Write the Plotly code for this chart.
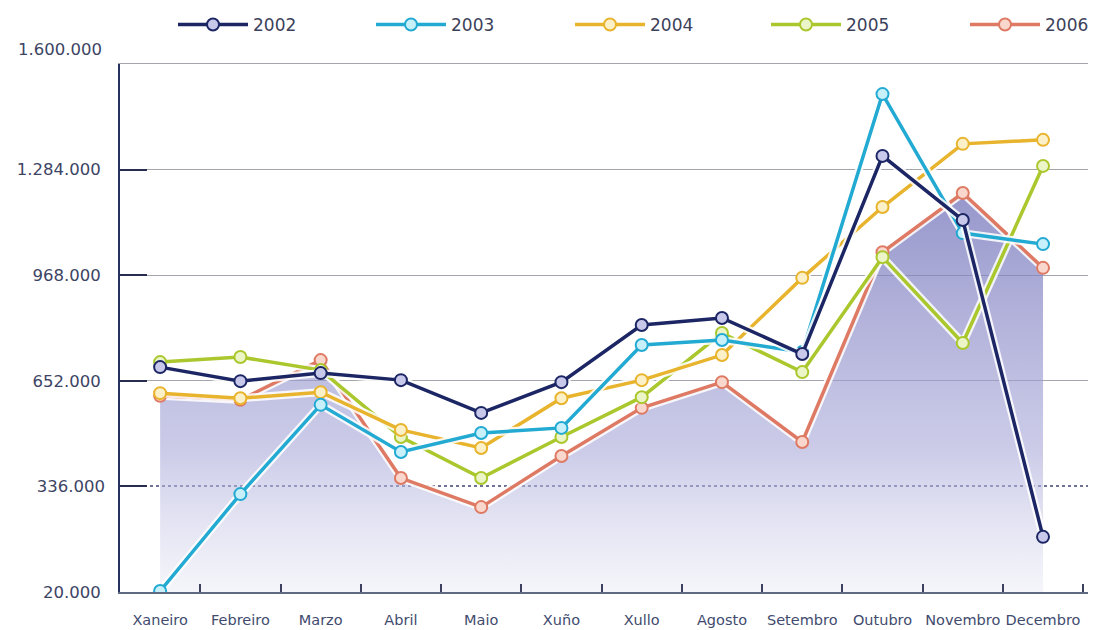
import plotly.graph_objects as go

months = ["Xaneiro", "Febreiro", "Marzo", "Abril", "Maio", "Xuño", "Xullo",
          "Agosto", "Setembro", "Outubro", "Novembro", "Decembro"]

v2002 = [693000, 651000, 675000, 654000, 556000, 648000, 819000, 840000, 732000, 1325000, 1133000, 185000]
v2003 = [23000, 313000, 580000, 439000, 496000, 511000, 759000, 774000, 738000, 1510000, 1094000, 1061000]
v2004 = [615000, 600000, 618000, 505000, 451000, 600000, 654000, 729000, 960000, 1172000, 1361000, 1373000]
v2005 = [708000, 723000, 684000, 484000, 361000, 484000, 603000, 795000, 678000, 1022000, 765000, 1295000]
v2006 = [607000, 595000, 714000, 361000, 274000, 427000, 571000, 648000, 469000, 1037000, 1214000, 990000]

y_ticks = [20000, 336000, 652000, 968000, 1284000, 1600000]
y_labels = ["20.000", "336.000", "652.000", "968.000", "1.284.000", "1.600.000"]

series = [
    ("2002", v2002, "rgb(28,38,100)", "rgb(200,200,235)"),
    ("2003", v2003, "rgb(35,170,210)", "rgb(200,240,250)"),
    ("2004", v2004, "rgb(232,180,45)", "rgb(252,240,200)"),
    ("2005", v2005, "rgb(170,200,45)", "rgb(235,245,200)"),
    ("2006", v2006, "rgb(222,122,100)", "rgb(250,215,205)"),
]
legend_names = ["legend", "legend2", "legend3", "legend4", "legend5"]

# page body adds an 8px offset, so the figure is 8px smaller than the window
W, H, OFF = 1088, 622, 8
legend_left_px = [173 - OFF, 371 - OFF, 570 - OFF, 766 - OFF, 965 - OFF]

x = list(range(len(months)))
x_range = [-0.5, 11.66]
y_range = [y_ticks[0], y_ticks[-1]]
fig = go.Figure()

# gradient area under 2006 (semi-transparent so gridlines show through)
fig.add_trace(go.Scatter(
    x=x, y=v2006, mode="none", fill="tozeroy", showlegend=False, hoverinfo="skip",
    fillgradient=dict(type="vertical", start=20000, stop=max(v2006),
                      colorscale=[[0, "rgba(225,225,242,0.35)"], [0.35, "rgba(170,170,218,0.6)"],
                                  [1, "rgba(115,115,186,0.75)"]]),
))

# draw order: 2006 bottom .. 2002 top
for i, (name, vals, col, fillc) in reversed(list(enumerate(series))):
    fig.add_trace(go.Scatter(
        x=x, y=vals, mode="lines", showlegend=False, hoverinfo="skip",
        line=dict(color="rgba(255,255,255,0.85)", width=8),
    ))
    fig.add_trace(go.Scatter(
        x=x, y=vals, mode="lines+markers", name=name, legend=legend_names[i],
        line=dict(color=col, width=3.5),
        marker=dict(size=12, color=fillc, line=dict(color=col, width=2)),
    ))

legend_common = dict(orientation="h", xref="container", yref="container",
                     y=1 - (25 - OFF) / H, xanchor="left", yanchor="middle",
                     itemwidth=70, font=dict(size=17, color="rgb(60,65,90)", family="DejaVu Sans"),
                     bgcolor="rgba(0,0,0,0)")
legend_layout = {}
for ln, px in zip(legend_names, legend_left_px):
    legend_layout[ln] = dict(legend_common, x=px / W)

fig.update_layout(
    width=W, height=H,
    margin=dict(l=120 - OFF, r=0, t=64 - OFF, b=38, autoexpand=False),
    paper_bgcolor="white", plot_bgcolor="white",
    font=dict(family="DejaVu Sans", color="rgb(60,68,100)"),
    showlegend=True,
    **legend_layout,
)

fig.update_layout(
    xaxis=dict(
        range=x_range, tickvals=x, ticktext=months, ticks="",
        showline=True, linecolor="rgb(95,105,130)", linewidth=2, showgrid=False,
        tickfont=dict(size=14.5, color="rgb(65,75,110)"), ticklabelstandoff=14,
        minor=dict(tickvals=[i + 0.5 for i in x], ticks="inside", ticklen=8,
                   tickcolor="rgb(60,65,95)", tickwidth=2, showgrid=False),
        zeroline=False, automargin=False,
    ),
    xaxis2=dict(
        range=x_range, overlaying="x", side="top", showline=True,
        linecolor="rgb(165,165,172)", linewidth=1, showgrid=False, ticks="",
        showticklabels=False, zeroline=False, automargin=False,
    ),
)

solid_vals = [t for t in y_ticks if t != 336000]
solid_text = [l if t != 1600000 else "" for t, l in zip(y_ticks, y_labels) if t != 336000]

fig.update_layout(
    yaxis=dict(
        range=y_range, tickvals=solid_vals, ticktext=solid_text,
        ticks="inside", ticklen=27, tickwidth=2, tickcolor="rgb(40,45,80)",
        showgrid=True, gridcolor="rgb(165,165,172)", gridwidth=1,
        showline=True, linecolor="rgb(40,50,95)", linewidth=2,
        tickfont=dict(size=16.5, color="rgb(60,68,100)"), ticklabelstandoff=14,
        zeroline=False, automargin=False,
    ),
    yaxis2=dict(
        range=y_range, overlaying="y", side="left",
        tickvals=[336000], ticktext=[y_labels[1]],
        ticks="inside", ticklen=27, tickwidth=2, tickcolor="rgb(40,45,80)",
        showgrid=True, gridcolor="rgb(110,115,150)", griddash="dot", gridwidth=1.5,
        showline=False, tickfont=dict(size=16.5, color="rgb(60,68,100)"),
        ticklabelstandoff=14, zeroline=False, automargin=False,
    ),
)
fig.add_trace(go.Scatter(x=[0], y=[y_ticks[0]], xaxis="x2", yaxis="y2", mode="none",
                         showlegend=False, hoverinfo="skip"))

fig.add_annotation(xref="paper", yref="y", x=0, y=y_ticks[-1], text=y_labels[-1],
                   showarrow=False, xanchor="right", yanchor="middle", xshift=-16, yshift=15,
                   font=dict(size=16.5, color="rgb(60,68,100)", family="DejaVu Sans"))

fig.write_html("out.html")
